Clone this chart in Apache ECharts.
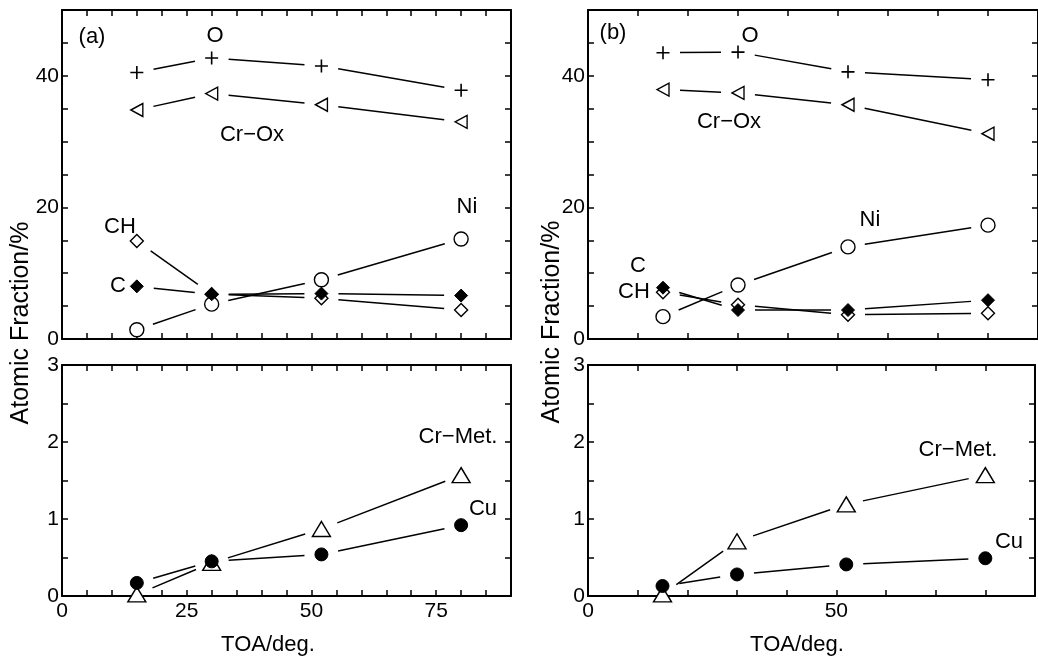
<!DOCTYPE html>
<html><head><meta charset="utf-8">
<script src="https://cdn.jsdelivr.net/npm/echarts@6/dist/echarts.min.js"></script>
<style>html,body{margin:0;padding:0;background:#fff}#c{width:1038px;height:660px}</style>
</head><body><div id="c"></div>
<script>
// ---- data ----
const toa = [15, 30, 52, 80];
// panel (a), upper
const aO    = [40.5, 42.7, 41.5, 37.8];
const aCrOx = [34.8, 37.3, 35.6, 33.0];
const aCH   = [14.9, 6.8, 6.2, 4.4];
const aC    = [8.0, 6.8, 6.9, 6.6];
const aNi   = [1.4, 5.3, 9.0, 15.2];
// panel (a), lower
const aCrMet = [0.02, 0.43, 0.87, 1.57];
const aCu    = [0.17, 0.45, 0.54, 0.92];
// panel (b), upper
const bO    = [43.5, 43.6, 40.6, 39.4];
const bCrOx = [37.9, 37.4, 35.6, 31.2];
const bCH   = [7.1, 5.2, 3.7, 3.9];
const bC    = [7.8, 4.4, 4.4, 5.9];
const bNi   = [3.4, 8.2, 14.0, 17.3];
// panel (b), lower
const bCrMet = [0.02, 0.71, 1.19, 1.57];
const bCu    = [0.13, 0.28, 0.41, 0.49];
// tick label rules
const xLabelStepA = 25, xLabelStepB = 50, yUpperLabelStep = 20, yLowerLabelStep = 1;

// ---- chart ----
const FONT = '"Liberation Sans", Arial, sans-serif';
const chart = echarts.init(document.getElementById('c'), null, {renderer: 'canvas'});
const grids = [
  {left: 62, top: 10, width: 449, height: 329},
  {left: 62, top: 365, width: 449, height: 231},
  {left: 588, top: 10, width: 456, height: 329},
  {left: 588, top: 365, width: 456, height: 231}
];
const lineStyle = {color: '#000', width: 2};
const tickStyle = {color: '#000', width: 1.5};
function xAx(grid, interval, labelStep, showLabel, pos) {
  return {
    type: 'value', gridIndex: grid, min: 0, max: 90, interval: interval, position: pos,
    axisLine: {show: true, onZero: false, lineStyle: lineStyle},
    axisTick: {show: true, inside: true, length: 6, lineStyle: tickStyle},
    splitLine: {show: false},
    axisLabel: {show: showLabel, color: '#000', fontSize: 21, fontFamily: FONT, margin: 5,
      formatter: v => (Math.abs(v % labelStep) < 1e-9 ? String(v) : '')}
  };
}
function yAx(grid, max, interval, labelStep, showLabel, pos) {
  return {
    type: 'value', gridIndex: grid, min: 0, max: max, interval: interval, position: pos,
    axisLine: {show: true, onZero: false, lineStyle: lineStyle},
    axisTick: {show: true, inside: true, length: 6, lineStyle: tickStyle},
    splitLine: {show: false},
    axisLabel: {show: showLabel, color: '#000', fontSize: 21, fontFamily: FONT, margin: 3,
      formatter: v => (Math.abs(v % labelStep) < 1e-9 ? String(v) : '')}
  };
}
const xAxes = [
  xAx(0, 5, xLabelStepA, false, 'bottom'), xAx(0, 5, xLabelStepA, false, 'top'),
  xAx(1, 5, xLabelStepA, true, 'bottom'),  xAx(1, 5, xLabelStepA, false, 'top'),
  xAx(2, 10, xLabelStepB, false, 'bottom'), xAx(2, 10, xLabelStepB, false, 'top'),
  xAx(3, 10, xLabelStepB, true, 'bottom'),  xAx(3, 10, xLabelStepB, false, 'top')
];
const yAxes = [
  yAx(0, 50, 5, yUpperLabelStep, true, 'left'), yAx(0, 50, 5, yUpperLabelStep, false, 'right'),
  yAx(1, 3, 0.5, yLowerLabelStep, true, 'left'), yAx(1, 3, 0.5, yLowerLabelStep, false, 'right'),
  yAx(2, 50, 5, yUpperLabelStep, true, 'left'), yAx(2, 50, 5, yUpperLabelStep, false, 'right'),
  yAx(3, 3, 0.5, yLowerLabelStep, true, 'left'), yAx(3, 3, 0.5, yLowerLabelStep, false, 'right')
];

const GAP = 17;
function segLine(grid, ys) {
  const d = [];
  for (let i = 0; i < toa.length - 1; i++) d.push([toa[i], ys[i], toa[i + 1], ys[i + 1]]);
  return {
    type: 'custom', xAxisIndex: 2 * grid, yAxisIndex: 2 * grid, data: d, z: 1,
    encode: {x: [0, 2], y: [1, 3]}, silent: true,
    renderItem: function (params, api) {
      const p1 = api.coord([api.value(0), api.value(1)]);
      const p2 = api.coord([api.value(2), api.value(3)]);
      const dx = p2[0] - p1[0], dy = p2[1] - p1[1];
      const L = Math.hypot(dx, dy);
      if (L <= 2 * GAP) return null;
      const ux = dx / L, uy = dy / L;
      return {type: 'line', shape: {x1: p1[0] + ux * GAP, y1: p1[1] + uy * GAP, x2: p2[0] - ux * GAP, y2: p2[1] - uy * GAP},
        style: {stroke: '#000', lineWidth: 1.5}};
    }
  };
}
const MK = {
  plus:   {symbol: 'path://M0,6H12M6,0V12', symbolSize: 13, itemStyle: {color: 'rgba(0,0,0,0)', borderColor: '#000', borderWidth: 1.6, opacity: 1}},
  ltri:   {symbol: 'triangle', symbolRotate: 90, symbolSize: [13, 12], itemStyle: {color: '#fff', borderColor: '#000', borderWidth: 1.4, opacity: 1}},
  odia:   {symbol: 'diamond', symbolSize: 13, itemStyle: {color: '#fff', borderColor: '#000', borderWidth: 1.4, opacity: 1}},
  fdia:   {symbol: 'diamond', symbolSize: 13, itemStyle: {color: '#000', borderColor: '#000', borderWidth: 1, opacity: 1}},
  ocirc:  {symbol: 'circle', symbolSize: 14, itemStyle: {color: '#fff', borderColor: '#000', borderWidth: 1.4, opacity: 1}},
  utri:   {symbol: 'triangle', symbolSize: [18, 15], itemStyle: {color: '#fff', borderColor: '#000', borderWidth: 1.4, opacity: 1}},
  fcirc:  {symbol: 'circle', symbolSize: 13, itemStyle: {color: '#000', borderColor: '#000', borderWidth: 1, opacity: 1}}
};
function markers(grid, ys, mk, z) {
  return Object.assign({
    type: 'scatter', xAxisIndex: 2 * grid, yAxisIndex: 2 * grid, z: z, silent: true,
    data: toa.map((x, i) => [x, ys[i]])
  }, MK[mk]);
}
const series = [
  segLine(0, aO), segLine(0, aCrOx), segLine(0, aCH), segLine(0, aC), segLine(0, aNi),
  segLine(1, aCrMet), segLine(1, aCu),
  segLine(2, bO), segLine(2, bCrOx), segLine(2, bCH), segLine(2, bC), segLine(2, bNi),
  segLine(3, bCrMet), segLine(3, bCu),
  markers(0, aO, 'plus', 3), markers(0, aCrOx, 'ltri', 3), markers(0, aCH, 'odia', 3),
  markers(0, aNi, 'ocirc', 4), markers(0, aC, 'fdia', 5),
  markers(1, aCrMet, 'utri', 3), markers(1, aCu, 'fcirc', 4),
  markers(2, bO, 'plus', 3), markers(2, bCrOx, 'ltri', 3), markers(2, bCH, 'odia', 3),
  markers(2, bNi, 'ocirc', 4), markers(2, bC, 'fdia', 5),
  markers(3, bCrMet, 'utri', 3), markers(3, bCu, 'fcirc', 4)
];

function txt(s, x, y, size, rot) {
  return {type: 'text', x: x, y: y, rotation: rot || 0, z: 10, silent: true,
    style: {text: s, fill: '#000', fontSize: size || 22, fontFamily: FONT,
      align: 'center', verticalAlign: 'middle', textAlign: 'center', textVerticalAlign: 'middle'}};
}
const graphics = [
  txt('(a)', 92, 37), txt('O', 215, 36), txt('Cr\u2212Ox', 252, 135), txt('CH', 120, 227), txt('C', 118, 286),
  txt('Ni', 467, 207), txt('Cr\u2212Met.', 458, 437), txt('Cu', 483, 509),
  txt('(b)', 613, 33), txt('O', 750, 36), txt('Cr\u2212Ox', 729, 122), txt('Ni', 870, 220),
  txt('C', 638, 266), txt('CH', 634, 292), txt('Cr\u2212Met.', 958, 450), txt('Cu', 1009, 542),
  txt('TOA/deg.', 268, 645), txt('TOA/deg.', 797, 645),
  txt('Atomic Fraction/%', 21, 323, 25, Math.PI / 2), txt('Atomic Fraction/%', 552, 322, 25, Math.PI / 2)
];

chart.setOption({
  backgroundColor: '#fff',
  animation: false,
  grid: grids,
  xAxis: xAxes,
  yAxis: yAxes,
  series: series,
  graphic: {elements: graphics}
});
</script></body></html>
